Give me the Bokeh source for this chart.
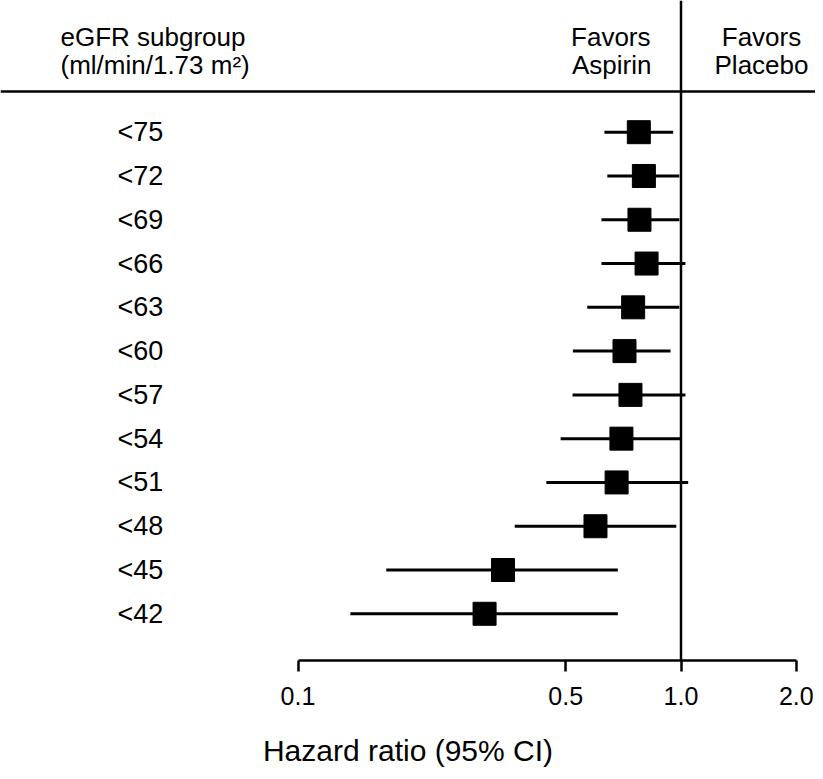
import math
from bokeh.plotting import figure
from bokeh.models import ColumnDataSource, Range1d, Span, CustomJSTickFormatter
from bokeh.core.properties import value
from bokeh.embed import file_html
from bokeh.resources import INLINE

# ---- data ----
subgroups = ["<75", "<72", "<69", "<66", "<63", "<60", "<57", "<54", "<51", "<48", "<45", "<42"]
hazard_ratio = [0.776, 0.800, 0.779, 0.813, 0.750, 0.712, 0.738, 0.699, 0.679, 0.598, 0.343, 0.307]
ci_lower = [0.631, 0.642, 0.620, 0.620, 0.569, 0.522, 0.521, 0.485, 0.445, 0.368, 0.170, 0.137]
ci_upper = [0.954, 0.990, 0.990, 1.027, 0.990, 0.939, 1.027, 0.997, 1.044, 0.972, 0.684, 0.684]
tick_values = [0.1, 0.5, 1.0, 2.0]

# ---- layout helpers (picture pixel -> data coords) ----
X_ONE = 680.5      # pixel of HR = 1.0
PX_DECADE = 383.0  # pixels per decade
Y0 = 131.7         # pixel of first row
DY = 43.78         # pixel spacing of rows


def hx(px):
    return 10 ** ((px - X_ONE) / PX_DECADE)


def ry(py):
    return (py - Y0) / DY


W, H = 815, 771
frame_bottom = 660

rows = list(range(len(subgroups)))
src = ColumnDataSource(dict(label=subgroups, hr=hazard_ratio, lo=ci_lower, hi=ci_upper, row=rows))

p = figure(width=W, height=H, output_backend="svg", toolbar_location=None,
           x_axis_type="log",
           x_range=Range1d(hx(0), hx(W)),
           y_range=Range1d(ry(frame_bottom), ry(0)),
           y_axis_location=None,
           min_border_left=0, min_border_right=0, min_border_top=0,
           min_border_bottom=H - frame_bottom)
p.outline_line_color = None
p.xgrid.visible = False
p.ygrid.visible = False
p.background_fill_color = "white"
p.border_fill_color = "white"

# x axis
ax = p.xaxis[0]
ax.ticker = tick_values
ax.bounds = (tick_values[0], tick_values[-1])
ax.formatter = CustomJSTickFormatter(code="return tick.toFixed(1);")
ax.axis_line_width = 2.5
ax.axis_line_color = "black"
ax.major_tick_line_width = 2.5
ax.major_tick_line_color = "black"
ax.major_tick_out = 11
ax.major_tick_in = 0
ax.minor_tick_line_color = None
ax.major_label_text_font = "Liberation Sans"
ax.major_label_text_font_size = "25px"
ax.major_label_text_color = "black"
ax.major_label_standoff = 15
ax.axis_label = "Hazard ratio (95% CI)"
ax.axis_label_text_font = "Liberation Sans"
ax.axis_label_text_font_size = "30px"
ax.axis_label_text_font_style = "normal"
ax.axis_label_text_color = "black"
ax.axis_label_standoff = 26

# reference lines
p.add_layout(Span(location=1.0, dimension="height", line_color="black", line_width=2.5))
p.add_layout(Span(location=ry(91), dimension="width", line_color="black", line_width=2.5))

# CI lines and point estimates
p.segment(x0="lo", y0="row", x1="hi", y1="row", source=src, line_color="black", line_width=3)
p.scatter(x="hr", y="row", source=src, marker="square", size=23, color="black")

# row labels
p.text(x=hx(117), y="row", text="label", source=src,
       text_font=value("Liberation Sans"), text_font_size="27px",
       text_align="left", text_baseline="middle", text_color="black")

# header texts
hfont = dict(text_font=value("Liberation Sans"), text_font_size="26px",
             text_baseline="middle", text_color="black")
line1, line2 = ry(36), ry(64)
p.text(x=[hx(60), hx(60)], y=[line1, line2],
       text=["eGFR subgroup", "(ml/min/1.73 m²)"], text_align="left", **hfont)
p.text(x=[hx(650), hx(651)], y=[line1, line2],
       text=["Favors", "Aspirin"], text_align="right", **hfont)
p.text(x=[hx(761), hx(761)], y=[line1, line2],
       text=["Favors", "Placebo"], text_align="center", **hfont)

open("out.html", "w").write(file_html(p, INLINE))
